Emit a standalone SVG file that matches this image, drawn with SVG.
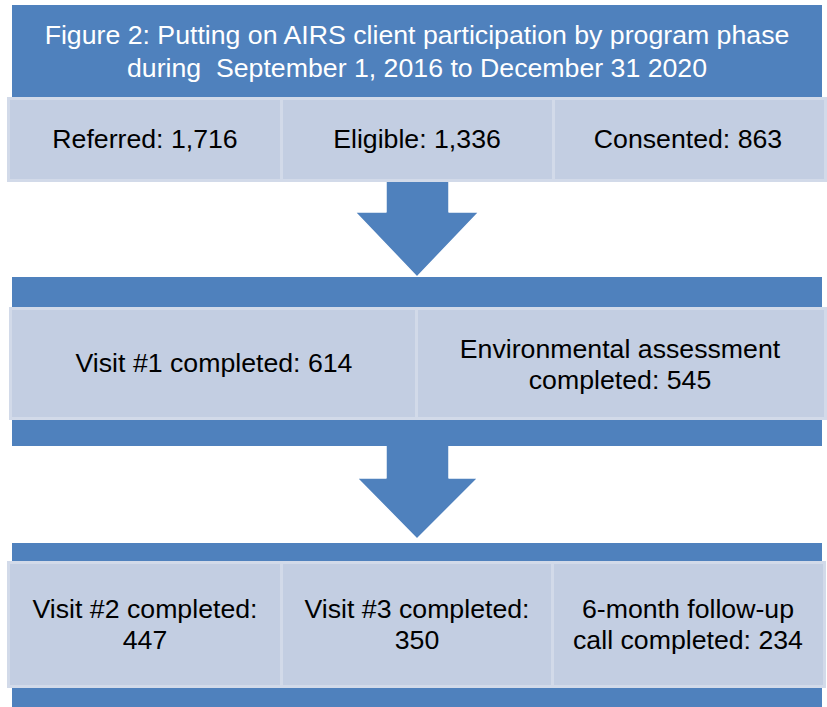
<svg xmlns="http://www.w3.org/2000/svg" width="827" height="707" viewBox="0 0 827 707">
  <style>
    .band { fill: #4F81BD; }
    .arrow { fill: #4F81BD; stroke: #FFFFFF; stroke-width: 1.5; stroke-linejoin: round; }
    .cell { fill: #C3CEE2; stroke: #D2DAE9; stroke-width: 3; }
    .title { font-family: "Liberation Sans", Arial, sans-serif; font-size: 26.7px; fill: #FFFFFF; text-anchor: middle; white-space: pre; }
    .label { font-family: "Liberation Sans", Arial, sans-serif; font-size: 26.7px; fill: #000000; text-anchor: middle; }
  </style>
  <rect width="827" height="707" fill="#FFFFFF"/>

  <!-- arrows between phases -->
  <g id="connectors">
    <polygon class="arrow" points="386,178 449,178 449,212 479,212 417,277 355,212 386,212"/>
    <polygon class="arrow" points="386,440 449,440 449,478 478,478 417,539 357,478 386,478"/>
  </g>

  <!-- phase 1: title and intake counts -->
  <g id="phase1">
    <rect class="band" x="12" y="5" width="810" height="100"/>
    <text class="title" x="417" y="44">Figure 2: Putting on AIRS client participation by program phase</text>
    <text class="title" x="417" y="77" xml:space="preserve">during  September 1, 2016 to December 31 2020</text>
  </g>
  <g id="referred">
    <rect class="cell" x="8.5" y="98.5" width="273" height="82"/>
    <text class="label" x="145" y="148">Referred: 1,716</text>
  </g>
  <g id="eligible">
    <rect class="cell" x="281.5" y="98.5" width="272" height="82"/>
    <text class="label" x="417" y="148">Eligible: 1,336</text>
  </g>
  <g id="consented">
    <rect class="cell" x="553.5" y="98.5" width="272" height="82"/>
    <text class="label" x="688" y="148">Consented: 863</text>
  </g>

  <!-- phase 2 -->
  <g id="phase2">
    <rect class="band" x="12" y="277" width="810" height="169"/>
  </g>
  <g id="visit1">
    <rect class="cell" x="10.5" y="308.5" width="406" height="110"/>
    <text class="label" x="214" y="372">Visit #1 completed: 614</text>
  </g>
  <g id="environmental">
    <rect class="cell" x="416.5" y="308.5" width="409" height="110"/>
    <text class="label" x="620" y="358">Environmental assessment</text>
    <text class="label" x="620" y="389">completed: 545</text>
  </g>

  <!-- phase 3 -->
  <g id="phase3">
    <rect class="band" x="12" y="543" width="810" height="164"/>
  </g>
  <g id="visit2">
    <rect class="cell" x="8.5" y="562.5" width="273" height="124"/>
    <text class="label" x="145" y="618">Visit #2 completed:</text>
    <text class="label" x="145" y="649">447</text>
  </g>
  <g id="visit3">
    <rect class="cell" x="281.5" y="562.5" width="271" height="124"/>
    <text class="label" x="417" y="618">Visit #3 completed:</text>
    <text class="label" x="417" y="649">350</text>
  </g>
  <g id="followup">
    <rect class="cell" x="552.5" y="562.5" width="272" height="124"/>
    <text class="label" x="688" y="618">6-month follow-up</text>
    <text class="label" x="688" y="649">call completed: 234</text>
  </g>
</svg>
